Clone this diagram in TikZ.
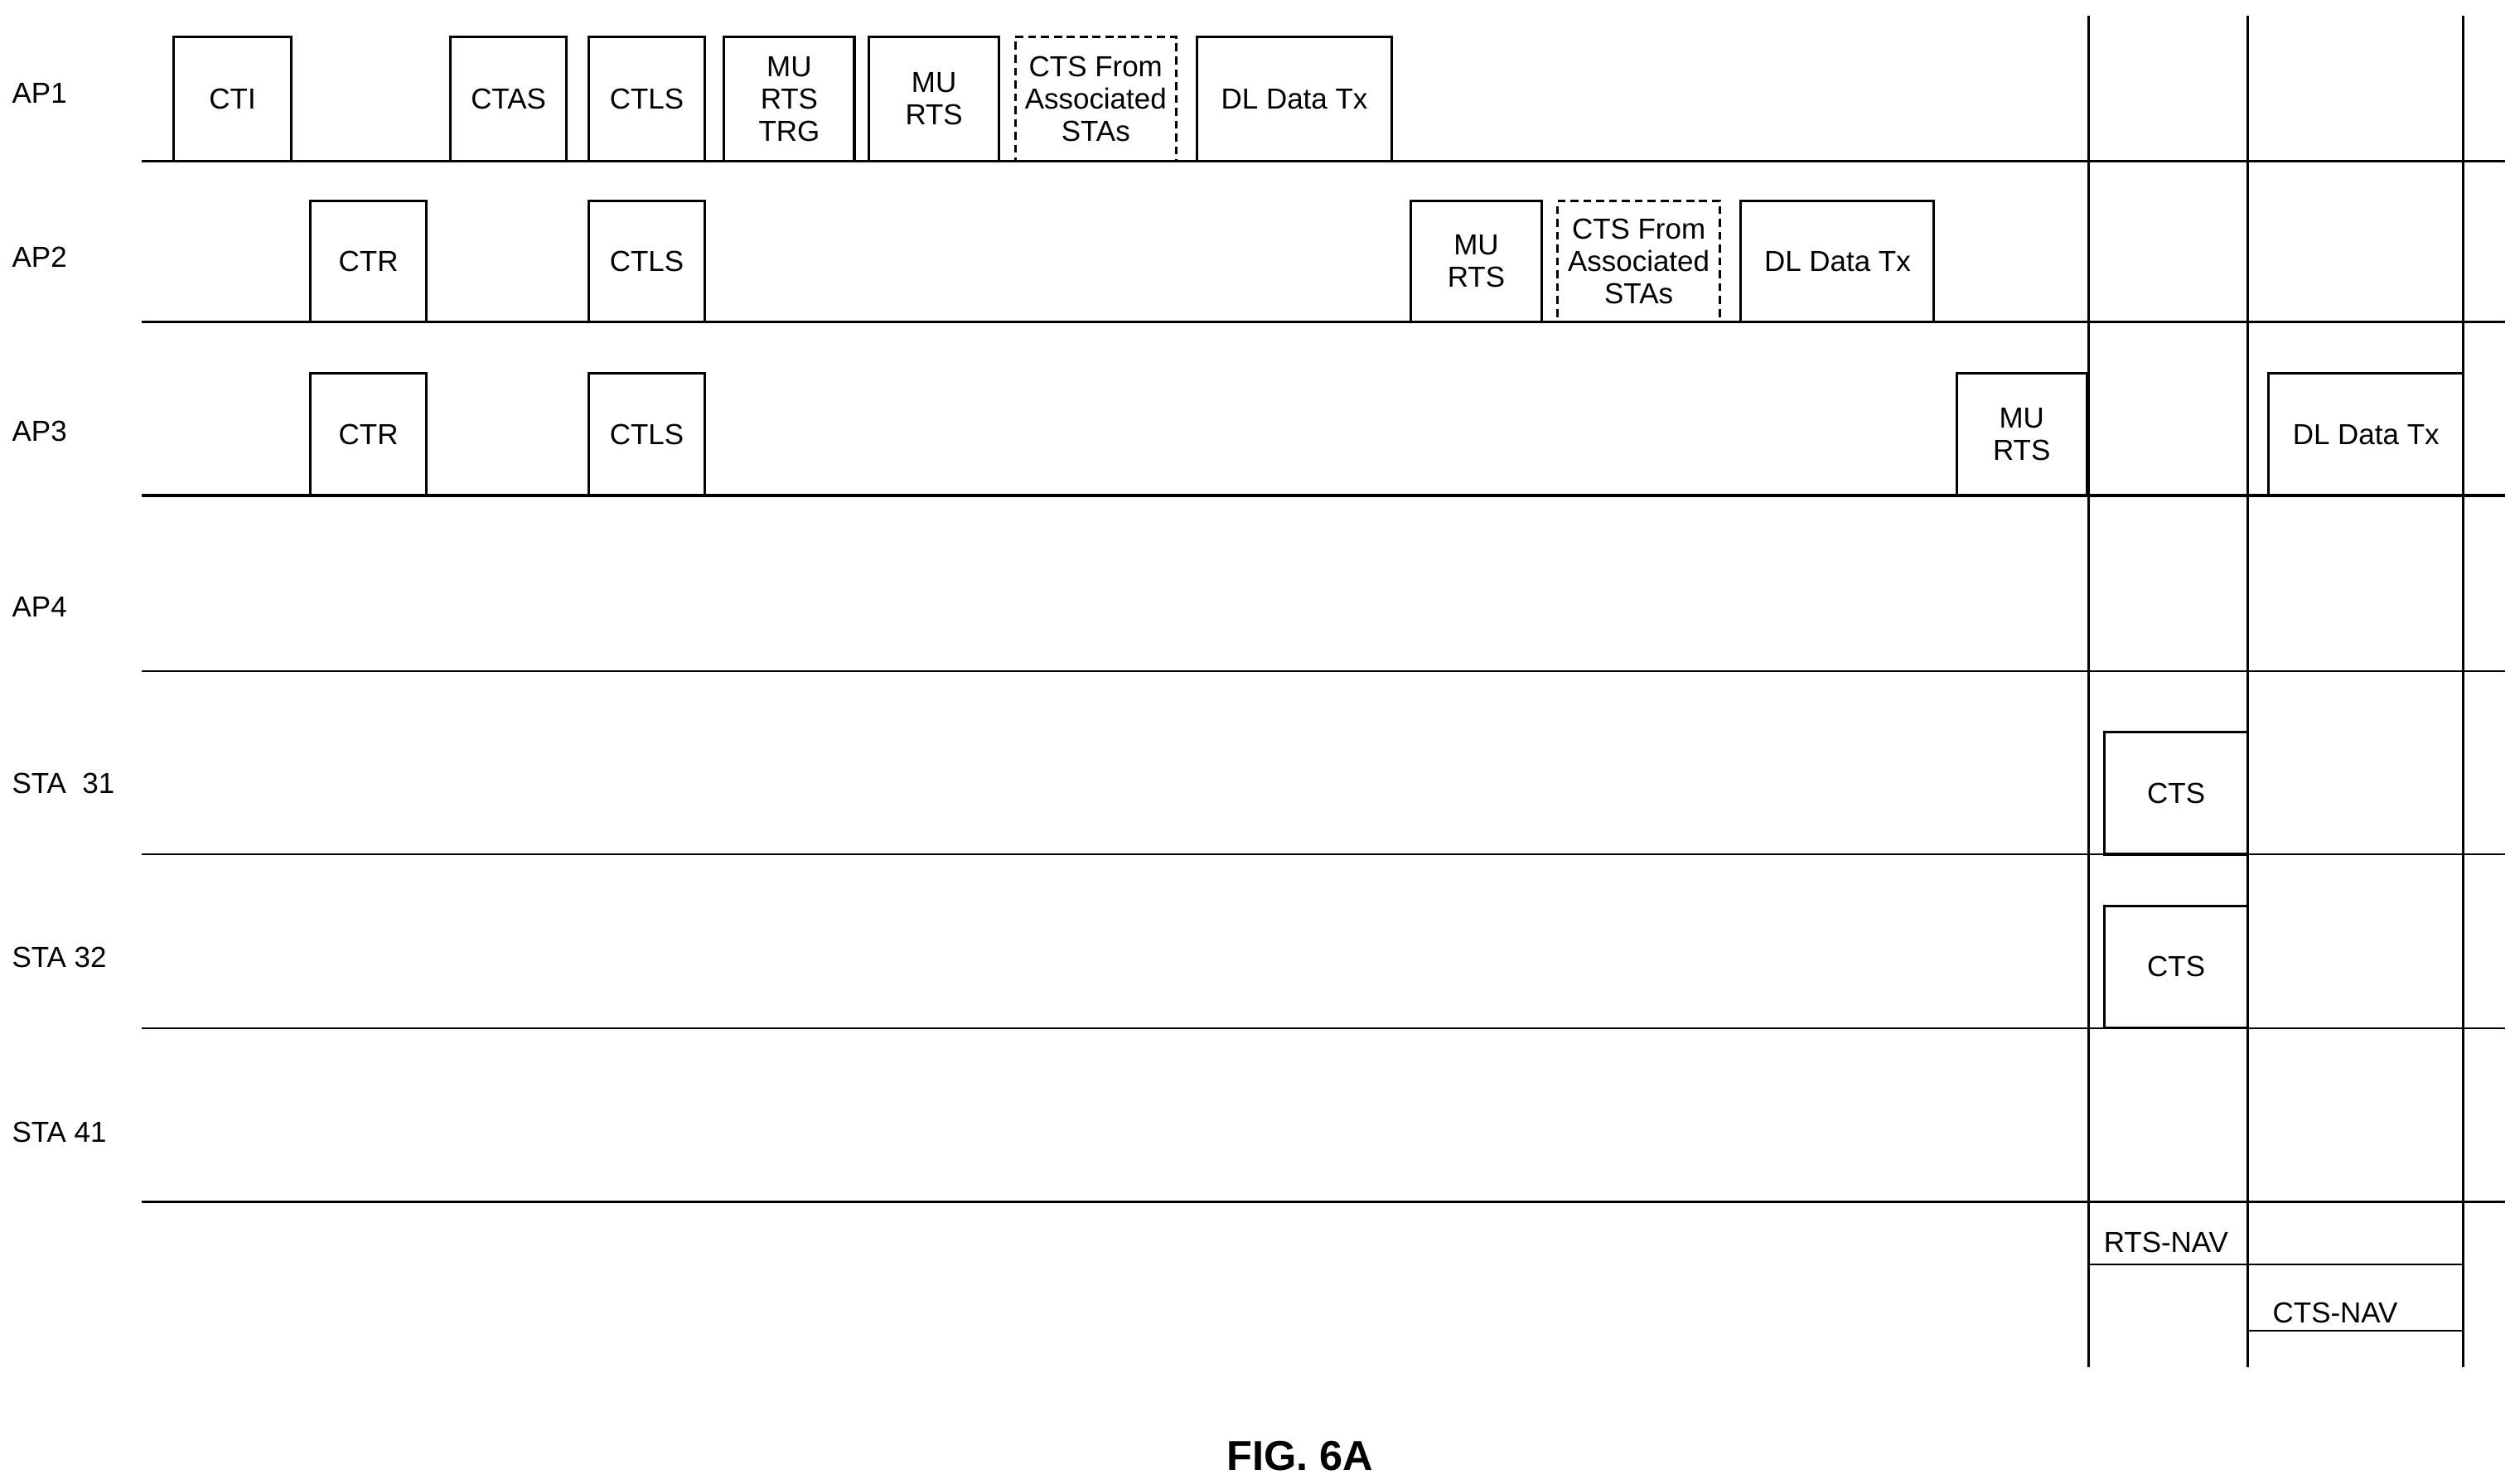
\documentclass[tikz,border=0pt]{standalone}
\usepackage{fontspec}
\setmainfont{Liberation Sans}
\begin{document}
\begin{tikzpicture}[x=1pt,y=-1pt,
  lane/.style={line width=1.6pt},
  thin lane/.style={line width=1.1pt},
  vl/.style={line width=1.6pt},
  box/.style={draw,line width=1.6pt,align=center,inner sep=0pt,font=\fontsize{18}{20}\selectfont},
  dbox/.style={box,dash pattern=on 5pt off 3pt},
  lbl/.style={anchor=west,font=\fontsize{18}{20}\selectfont},
  nav/.style={line width=1.1pt}]
\useasboundingbox (0,0) rectangle (1560,922);
% lanes
\foreach \n/\y in {a1/100,a2/200,a3/308}{
  \coordinate (\n L) at (88,\y); \coordinate (\n R) at (1557,\y);
  \draw[lane] (\n L) -- (\n R);}
\foreach \n/\y in {a4/417,s31/531,s32/639,s41/747}{
  \coordinate (\n L) at (88,\y); \coordinate (\n R) at (1557,\y);
  \draw[thin lane] (\n L) -- (\n R);}
% verticals
\foreach \n/\x in {v1/1298,v2/1397,v3/1531}{
  \coordinate (\n T) at (\x,10); \coordinate (\n B) at (\x,850);
  \draw[vl] (\n T) -- (\n B);}
% labels
\node[lbl] (l1) at (4,58) {AP1};
\node[lbl] (l2) at (4,160) {AP2};
\node[lbl] (l3) at (4,268) {AP3};
\node[lbl] (l4) at (4,377) {AP4};
\node[lbl] (l5) at (4,487) {STA\ \ 31};
\node[lbl] (l6) at (4,595) {STA 32};
\node[lbl] (l7) at (4,704) {STA 41};
\newcommand\bx[6]{\node[#1,minimum width=#4-#3,minimum height=#6-#5] (#2) at ({(#3+#4)/2},{(#5+#6)/2})}
% AP1
\bx{box}{cti}{108}{181}{23}{100} {CTI};
\bx{box}{ctas}{280}{352}{23}{100} {CTAS};
\bx{box}{ctls1}{366}{438}{23}{100} {CTLS};
\bx{box}{trg}{450}{531}{23}{100} {MU\\RTS\\TRG};
\bx{box}{mu1}{540}{621}{23}{100} {MU\\RTS};
\bx{dbox}{cf1}{631}{731}{23}{100} {CTS From\\Associated\\STAs};
\bx{box}{dl1}{744}{865}{23}{100} {DL Data Tx};
% AP2
\bx{box}{ctr2}{193}{265}{125}{200} {CTR};
\bx{box}{ctls2}{366}{438}{125}{200} {CTLS};
\bx{box}{mu2}{877}{958}{125}{200} {MU\\RTS};
\bx{dbox}{cf2}{968}{1069}{125}{200} {CTS From\\Associated\\STAs};
\bx{box}{dl2}{1082}{1202}{125}{200} {DL Data Tx};
% AP3
\bx{box}{ctr3}{193}{265}{232}{308} {CTR};
\bx{box}{ctls3}{366}{438}{232}{308} {CTLS};
\bx{box}{mu3}{1216}{1297}{232}{308} {MU\\RTS};
\bx{box}{dl3}{1410}{1531}{232}{308} {DL Data Tx};
% STA
\bx{box}{cts31}{1308}{1397}{455}{531} {CTS};
\bx{box}{cts32}{1308}{1397}{563}{639} {CTS};
% NAV
\coordinate (rn1) at (1298,786); \coordinate (rn2) at (1531,786);
\draw[nav] (rn1) -- (rn2);
\node[lbl,anchor=west] (rtsnav) at (1304,772) {RTS-NAV};
\coordinate (cn1) at (1397,827); \coordinate (cn2) at (1531,827);
\draw[nav] (cn1) -- (cn2);
\node[lbl,anchor=west] (ctsnav) at (1409,816) {CTS-NAV};
\node[font=\fontsize{26}{28}\selectfont\bfseries] (fig) at (808,905) {FIG. 6A};
\end{tikzpicture}
\end{document}
